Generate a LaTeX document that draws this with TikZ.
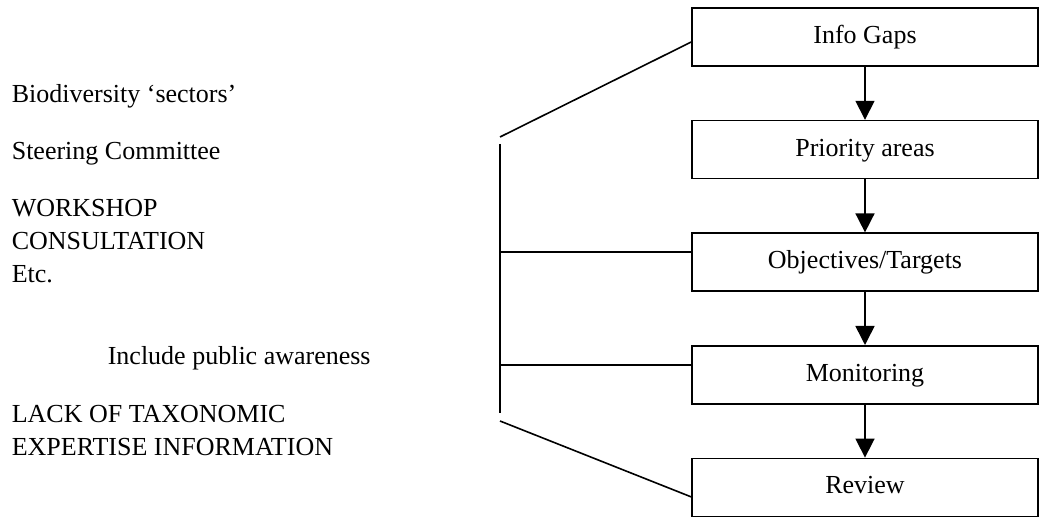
\documentclass[tikz,border=0pt]{standalone}
\usepackage{fontspec}
\setmainfont{Liberation Serif}
\usepackage{tikz}
\usetikzlibrary{arrows.meta, positioning}

\begin{document}
\begin{tikzpicture}[x=1pt, y=-1pt, node distance=53pt, line width=1.6pt,
  font=\fontsize{26}{33}\selectfont,
  stage/.style={draw, rectangle, minimum width=346pt, minimum height=58pt, text height=18pt, text depth=5pt, inner sep=0pt},
  note/.style={anchor=base west, align=left, inner sep=0pt}]
  \useasboundingbox (0,0) rectangle (1061,521);

  \node (gaps) [stage] at (865,37) {Info Gaps};
  \node (priority) [stage, below=of gaps] {Priority areas};
  \node (objectives) [stage, below=of priority] {Objectives/Targets};
  \node (monitoring) [stage, below=of objectives] {Monitoring};
  \node (review) [stage, below=of monitoring] {Review};

  \draw[-{Triangle[length=19pt, width=19pt]}] (gaps) -- (priority);
  \draw[-{Triangle[length=19pt, width=19pt]}] (priority) -- (objectives);
  \draw[-{Triangle[length=19pt, width=19pt]}] (objectives) -- (monitoring);
  \draw[-{Triangle[length=19pt, width=19pt]}] (monitoring) -- (review);

  \node (sectors) [note] at (11,102.7) {Biodiversity `sectors'};
  \node (steering) [note] at (11,160) {Steering Committee};
  \node (workshop) [note] at (11,283) {WORKSHOP\\CONSULTATION\\Etc.};
  \node (public) [note] at (107,365) {Include public awareness};
  \node (lack) [note] at (11,455) {LACK OF TAXONOMIC\\EXPERTISE INFORMATION};

  % bracket linking the inputs to the stages
  \coordinate (bartop) at (500,144);
  \coordinate (barbot) at (500,413);
  \coordinate (upfork) at (500,137);
  \coordinate (downfork) at (500,421);
  \coordinate (objin) at ([yshift=10pt]objectives.west);
  \coordinate (monin) at ([yshift=10pt]monitoring.west);
  \draw (bartop) -- (barbot);
  \draw (upfork) -- ([yshift=-5pt]gaps.west);
  \draw (downfork) -- ([yshift=-9.5pt]review.west);
  \draw (objin -| bartop) -- (objin);
  \draw (monin -| bartop) -- (monin);
\end{tikzpicture}
\end{document}
